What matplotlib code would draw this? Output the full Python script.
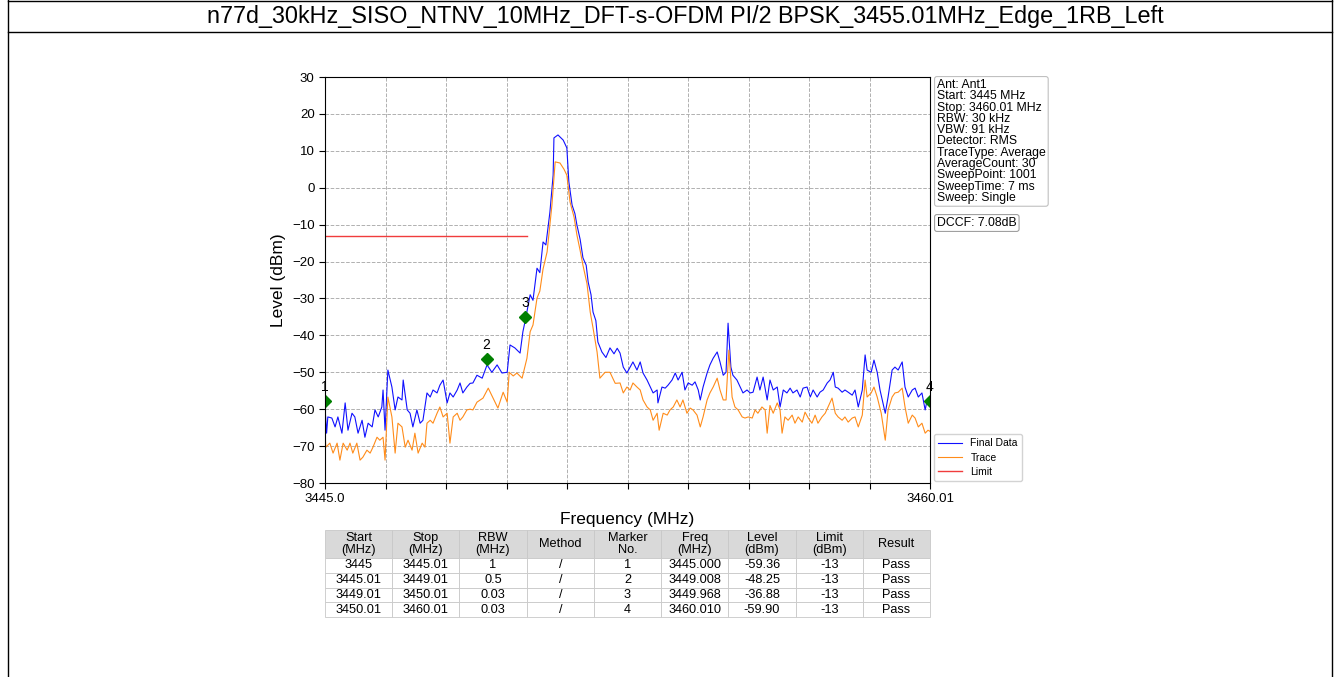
import numpy as np
import matplotlib.pyplot as plt
from matplotlib.lines import Line2D

plt.rcParams['font.family'] = ['Liberation Sans', 'DejaVu Sans']

title = 'n77d_30kHz_SISO_NTNV_10MHz_DFT-s-OFDM PI/2 BPSK_3455.01MHz_Edge_1RB_Left'

# Final Data trace (MHz, dBm)
final_f = [3445.00, 3445.04, 3445.07, 3445.17, 3445.25, 3445.32, 3445.42, 3445.50, 3445.57, 3445.67,
           3445.74, 3445.82, 3445.92, 3445.99, 3446.07, 3446.17, 3446.24, 3446.32, 3446.41, 3446.44,
           3446.49, 3446.56, 3446.66, 3446.74, 3446.81, 3446.91, 3446.94, 3447.04, 3447.11, 3447.18,
           3447.28, 3447.36, 3447.43, 3447.53, 3447.61, 3447.68, 3447.78, 3447.85, 3447.93, 3448.03,
           3448.10, 3448.18, 3448.28, 3448.35, 3448.42, 3448.52, 3448.60, 3448.67, 3448.77, 3448.90,
           3449.02, 3449.14, 3449.27, 3449.39, 3449.52, 3449.59, 3449.71, 3449.84, 3449.91, 3449.96,
           3450.09, 3450.16, 3450.26, 3450.33, 3450.41, 3450.48, 3450.58, 3450.66, 3450.68, 3450.78,
           3450.91, 3451.00, 3451.05, 3451.13, 3451.20, 3451.25, 3451.33, 3451.40, 3451.48, 3451.53,
           3451.60, 3451.65, 3451.72, 3451.77, 3451.87, 3451.97, 3452.07, 3452.17, 3452.25, 3452.32,
           3452.40, 3452.49, 3452.57, 3452.64, 3452.74, 3452.82, 3452.89, 3452.99, 3453.07, 3453.14,
           3453.24, 3453.26, 3453.36, 3453.44, 3453.51, 3453.61, 3453.69, 3453.76, 3453.86, 3453.93,
           3454.01, 3454.11, 3454.18, 3454.26, 3454.31, 3454.38, 3454.48, 3454.55, 3454.63, 3454.73,
           3454.80, 3454.88, 3454.95, 3455.00, 3455.07, 3455.12, 3455.22, 3455.30, 3455.37, 3455.47,
           3455.55, 3455.62, 3455.72, 3455.79, 3455.87, 3455.97, 3456.04, 3456.12, 3456.22, 3456.29,
           3456.37, 3456.46, 3456.54, 3456.61, 3456.71, 3456.79, 3456.86, 3456.96, 3457.04, 3457.11,
           3457.21, 3457.28, 3457.36, 3457.46, 3457.53, 3457.61, 3457.66, 3457.73, 3457.83, 3457.90,
           3457.98, 3458.08, 3458.15, 3458.23, 3458.33, 3458.40, 3458.45, 3458.55, 3458.62, 3458.70,
           3458.77, 3458.90, 3458.97, 3459.07, 3459.14, 3459.22, 3459.32, 3459.39, 3459.47, 3459.57,
           3459.64, 3459.72, 3459.81, 3459.89, 3459.94, 3460.01]
final_l = [-59.4, -66.5, -62.1, -62.4, -64.8, -62.1, -66.5, -58.3, -65.7, -61.1,
           -62.1, -66.5, -63.0, -67.6, -63.8, -64.8, -60.2, -62.1, -59.4, -54.8,
           -65.7, -49.4, -54.0, -60.2, -56.7, -57.5, -52.1, -60.2, -61.1, -64.8,
           -60.2, -63.8, -63.0, -55.6, -56.7, -54.8, -55.6, -53.5, -52.1, -58.3,
           -55.6, -56.7, -54.8, -52.9, -55.6, -54.0, -53.0, -52.9, -50.8, -51.6,
           -48.0, -50.0, -48.0, -50.2, -50.0, -42.6, -43.4, -44.8, -39.0, -36.4,
           -29.0, -30.5, -21.8, -23.0, -14.7, -15.5, -6.6, 3.4, 13.5, 14.3,
           12.9, 10.8, 1.6, -4.7, -7.0, -10.1, -14.0, -19.0, -21.0, -25.6,
           -29.0, -33.7, -36.0, -41.8, -44.5, -46.0, -43.4, -45.0, -43.5, -44.8,
           -48.6, -50.2, -48.6, -47.2, -49.4, -47.2, -50.2, -52.1, -54.0, -55.6,
           -54.8, -58.3, -54.0, -54.3, -53.5, -52.1, -50.2, -52.1, -50.0, -54.8,
           -52.9, -53.5, -52.6, -54.8, -57.5, -54.0, -50.2, -48.0, -46.2, -44.5,
           -47.2, -50.8, -50.0, -36.7, -48.6, -50.8, -52.1, -54.0, -55.6, -54.8,
           -55.6, -55.4, -51.3, -54.8, -51.3, -57.5, -52.1, -54.8, -54.0, -59.4,
           -54.8, -55.6, -54.3, -55.6, -54.8, -56.7, -54.3, -54.0, -56.7, -54.8,
           -56.7, -55.4, -54.8, -52.9, -52.1, -50.0, -54.0, -54.3, -55.4, -54.8,
           -55.4, -56.2, -54.8, -59.4, -54.8, -45.3, -49.4, -50.0, -46.7, -50.0,
           -54.8, -61.1, -56.7, -49.4, -48.6, -49.4, -47.2, -54.0, -56.7, -54.8,
           -54.3, -56.7, -55.6, -60.2, -57.5, -57.8]

# Trace (MHz, dBm)
trace_f = [3445.00, 3445.02, 3445.12, 3445.20, 3445.30, 3445.37, 3445.45, 3445.55, 3445.62, 3445.69,
           3445.79, 3445.87, 3445.94, 3446.04, 3446.12, 3446.19, 3446.29, 3446.36, 3446.44, 3446.49,
           3446.56, 3446.66, 3446.74, 3446.81, 3446.91, 3446.99, 3447.06, 3447.16, 3447.23, 3447.31,
           3447.41, 3447.48, 3447.53, 3447.61, 3447.68, 3447.78, 3447.85, 3447.93, 3448.03, 3448.10,
           3448.18, 3448.28, 3448.35, 3448.42, 3448.52, 3448.60, 3448.67, 3448.77, 3448.92, 3449.05,
           3449.17, 3449.29, 3449.42, 3449.52, 3449.57, 3449.67, 3449.76, 3449.89, 3450.01, 3450.09,
           3450.16, 3450.26, 3450.33, 3450.41, 3450.51, 3450.58, 3450.63, 3450.71, 3450.83, 3450.93,
           3451.00, 3451.08, 3451.18, 3451.25, 3451.33, 3451.40, 3451.50, 3451.58, 3451.65, 3451.75,
           3451.82, 3451.95, 3452.07, 3452.20, 3452.32, 3452.40, 3452.49, 3452.57, 3452.64, 3452.74,
           3452.82, 3452.89, 3452.99, 3453.07, 3453.14, 3453.24, 3453.29, 3453.39, 3453.49, 3453.56,
           3453.64, 3453.73, 3453.81, 3453.88, 3453.98, 3454.06, 3454.13, 3454.23, 3454.31, 3454.38,
           3454.48, 3454.55, 3454.63, 3454.73, 3454.80, 3454.88, 3454.95, 3455.02, 3455.10, 3455.17,
           3455.25, 3455.35, 3455.42, 3455.50, 3455.60, 3455.67, 3455.74, 3455.84, 3455.92, 3455.97,
           3456.04, 3456.12, 3456.22, 3456.29, 3456.34, 3456.41, 3456.49, 3456.59, 3456.66, 3456.74,
           3456.84, 3456.91, 3456.99, 3457.08, 3457.16, 3457.23, 3457.33, 3457.41, 3457.48, 3457.58,
           3457.66, 3457.73, 3457.83, 3457.90, 3457.98, 3458.08, 3458.15, 3458.23, 3458.33, 3458.40,
           3458.45, 3458.55, 3458.62, 3458.70, 3458.80, 3458.90, 3458.97, 3459.07, 3459.14, 3459.22,
           3459.32, 3459.39, 3459.47, 3459.57, 3459.64, 3459.72, 3459.81, 3459.89, 3459.96, 3460.01]
trace_l = [-66.0, -70.3, -69.2, -71.9, -69.2, -73.8, -69.2, -71.1, -69.2, -71.9,
           -69.2, -73.8, -73.0, -71.1, -71.9, -70.3, -67.6, -68.4, -67.6, -73.8,
           -56.7, -62.1, -71.9, -63.8, -64.8, -70.3, -68.4, -71.1, -66.5, -71.9,
           -69.2, -70.3, -63.8, -63.0, -63.8, -61.1, -59.4, -62.1, -61.1, -69.2,
           -62.1, -61.1, -63.0, -62.1, -60.2, -60.0, -60.2, -58.1, -57.0, -54.3,
           -57.0, -59.7, -55.4, -58.1, -50.0, -51.0, -50.2, -51.6, -46.2, -39.0,
           -37.2, -29.9, -28.0, -22.0, -17.4, -10.0, -4.7, 7.0, 6.7, 5.0,
           3.4, -3.9, -8.0, -12.8, -17.0, -21.0, -26.0, -33.7, -38.0, -44.5,
           -51.6, -50.0, -50.0, -53.0, -52.9, -55.6, -54.0, -54.8, -52.9, -54.0,
           -54.8, -57.5, -59.4, -60.2, -63.0, -61.1, -65.7, -61.1, -61.6, -60.2,
           -59.4, -57.5, -59.4, -57.5, -61.1, -59.7, -60.2, -61.6, -64.8, -62.1,
           -57.5, -55.6, -54.0, -51.6, -54.8, -57.5, -57.5, -44.0, -56.7, -59.4,
           -60.2, -62.1, -62.4, -62.1, -62.4, -60.2, -61.1, -59.4, -60.2, -66.5,
           -59.0, -61.1, -58.3, -60.2, -66.5, -62.1, -63.0, -61.6, -63.8, -62.1,
           -63.5, -60.8, -62.4, -63.8, -61.6, -63.8, -62.1, -61.1, -59.4, -57.0,
           -61.1, -62.1, -63.0, -62.1, -63.5, -62.4, -62.1, -64.8, -61.6, -52.1,
           -56.7, -55.6, -54.0, -56.7, -61.1, -68.4, -60.2, -56.7, -55.6, -55.4,
           -54.3, -59.4, -63.8, -61.6, -62.4, -64.8, -63.8, -66.5, -65.7, -66.0]

limit_f = [3445.0, 3450.01]
limit_l = [-13, -13]

# markers as drawn on the plot
marker_no = ['1', '2', '3', '4']
marker_f = [3445.000, 3449.008, 3449.968, 3460.010]
marker_plot_l = [-57.7, -46.4, -35.0, -57.8]

info_lines = ['Ant: Ant1', 'Start: 3445 MHz', 'Stop: 3460.01 MHz', 'RBW: 30 kHz', 'VBW: 91 kHz',
              'Detector: RMS', 'TraceType: Average', 'AverageCount: 30', 'SweepPoint: 1001',
              'SweepTime: 7 ms', 'Sweep: Single']
dccf = 'DCCF: 7.08dB'

col_labels = ['Start\n(MHz)', 'Stop\n(MHz)', 'RBW\n(MHz)', 'Method', 'Marker\nNo.', 'Freq\n(MHz)',
              'Level\n(dBm)', 'Limit\n(dBm)', 'Result']
t_start = ['3445', '3445.01', '3449.01', '3450.01']
t_stop = ['3445.01', '3449.01', '3450.01', '3460.01']
t_rbw = ['1', '0.5', '0.03', '0.03']
t_method = ['/', '/', '/', '/']
t_freq = ['3445.000', '3449.008', '3449.968', '3460.010']
t_level = ['-59.36', '-48.25', '-36.88', '-59.90']
t_limit = ['-13', '-13', '-13', '-13']
t_result = ['Pass', 'Pass', 'Pass', 'Pass']

W, H = 1340, 677
fig = plt.figure(figsize=(W / 100, H / 100), dpi=100)

# page frame + title row
for xs, ys in [([8, 8], [0, H]), ([W - 8, W - 8], [0, H]), ([8, W - 8], [1, 1]),
               ([8, W - 8], [32, 32])]:
    fig.add_artist(Line2D([x / W for x in xs], [1 - y / H for y in ys], color='black', lw=1))
fig.text(685 / W, 1 - 17 / H, title, ha='center', va='center', fontsize=16.8)

ax = fig.add_axes([325 / W, 1 - 483 / H, 605 / W, 406 / H])
ax.plot(final_f, final_l, color='#1010ff', lw=0.8, label='Final Data')
ax.plot(trace_f, trace_l, color='#ff8c1a', lw=0.8, label='Trace')
ax.plot(limit_f, limit_l, color='#f03c3c', lw=1.0, label='Limit')
ax.plot(marker_f, marker_plot_l, 'D', color='#008000', ms=6, ls='none')
for n, f, l in zip(marker_no, marker_f, marker_plot_l):
    ax.annotate(n, (f, l), xytext=(0, 5), textcoords='offset points', ha='center', va='bottom',
                fontsize=10, annotation_clip=False)

ax.set_xlim(3445.0, 3460.01)
ax.set_ylim(-80, 30)
ax.set_yticks(np.arange(-80, 31, 10))
xt = np.linspace(3445.0, 3460.01, 11)
ax.set_xticks(xt)
ax.set_xticklabels(['3445.0'] + [''] * 9 + ['3460.01'])
ax.tick_params(labelsize=9.5, direction='out', length=4)
ax.grid(True, ls='--', color='#b0b0b0', lw=0.7)
ax.set_xlabel('Frequency (MHz)', fontsize=12.5, labelpad=5)
ax.set_ylabel('Level (dBm)', fontsize=12.5, labelpad=4)

fig.text(937 / W, 1 - 79 / H, '\n'.join(info_lines), ha='left', va='top', fontsize=8.8, linespacing=0.92,
         bbox=dict(boxstyle='round,pad=0.2', fc='white', ec='#c0c0c0', lw=0.8))
fig.text(937 / W, 1 - 223 / H, dccf, ha='left', va='center', fontsize=8.8,
         bbox=dict(boxstyle='round,pad=0.2', fc='white', ec='#a0a0a0', lw=0.8))

ax.legend(loc='lower left', bbox_to_anchor=(934 / W, 1 - 481 / H), bbox_transform=fig.transFigure,
          fontsize=7.5, frameon=True, edgecolor='#c8c8c8', fancybox=True, borderaxespad=0,
          handlelength=2.3, labelspacing=0.4)

# result table
rows = list(zip(t_start, t_stop, t_rbw, t_method, marker_no, t_freq, t_level, t_limit, t_result))
tax = fig.add_axes([325 / W, 1 - 617 / H, 605 / W, 87 / H])
tax.axis('off')
tb = tax.table(cellText=rows, colLabels=col_labels, cellLoc='center', bbox=[0, 0, 1, 1])
tb.auto_set_font_size(False)
for (r, c), cell in tb.get_celld().items():
    cell.set_edgecolor('#c8c8c8')
    cell.set_linewidth(0.6)
    cell.get_text().set_fontsize(9.2)
    if r == 0:
        cell.set_facecolor('#d9d9d9')
        cell.set_height(28 / 87)
        cell.get_text().set_linespacing(0.95)
    else:
        cell.set_height(14.75 / 87)

fig.savefig('out.png', dpi=100)
